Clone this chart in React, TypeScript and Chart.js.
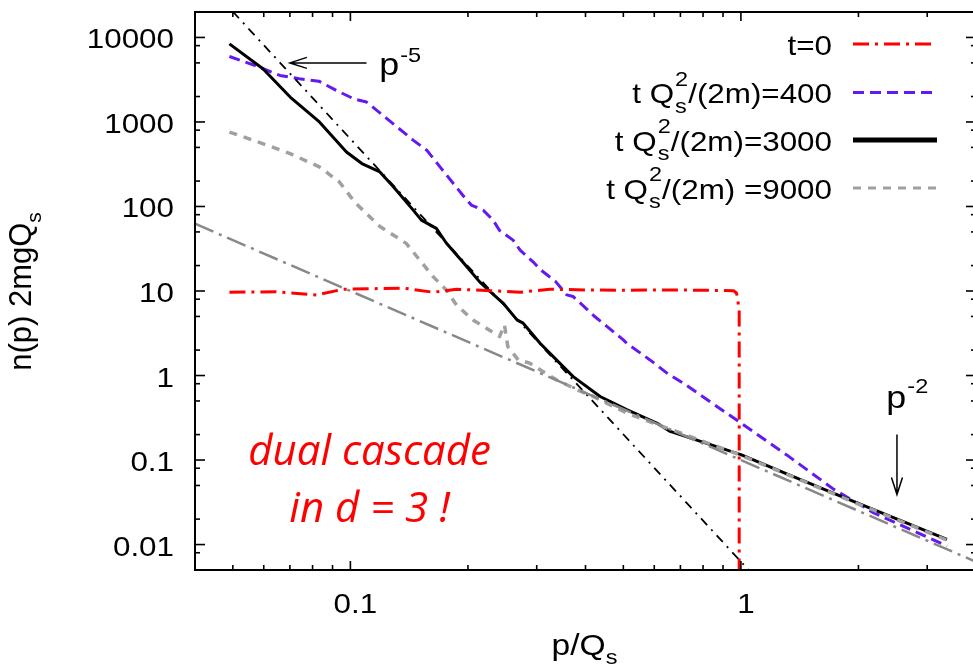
import React, { useEffect, useRef } from 'react';
import { Chart, registerables } from 'chart.js';

Chart.register(...registerables);

// ---- axis ranges & ticks ----
const X_MIN = 0.04;
const X_MAX = 4;
const Y_MIN = 0.005;
const Y_MAX = 20000;

const xMajorTicks = [0.1, 1];
const xMajorLabels = ['0.1', '1'];
const xMinorTicks = [0.05, 0.06, 0.07, 0.08, 0.09, 0.2, 0.3, 0.4, 0.5, 0.6, 0.7, 0.8, 0.9, 2, 3];
const yMajorTicks = [0.01, 0.1, 1, 10, 100, 1000, 10000];
const yMajorLabels = ['0.01', '0.1', '1', '10', '100', '1000', '10000'];
const yMinorTicks = [0.008, 0.02, 0.05, 0.08, 0.2, 0.5, 0.8, 2, 5, 8, 20, 50, 80, 200, 500, 800, 2000, 5000, 8000];

// ---- series: t = 0 ----
const t0P = [0.049, 0.0644, 0.0818, 0.0958, 0.137, 0.163, 0.187, 0.228, 0.272, 0.324, 0.4, 0.5, 0.65, 0.8, 0.957, 0.975, 0.99, 0.99];
const t0N = [9.66, 9.8, 8.97, 10.5, 10.8, 9.66, 10.5, 10.1, 9.66, 10.5, 10.3, 10.2, 10.3, 10.2, 10.1, 9.4, 6, 0.001];

// ---- series: t Qs^2/(2m) = 400 ----
const t400P = [0.049, 0.057, 0.066, 0.074, 0.083, 0.092, 0.102, 0.11, 0.124, 0.145, 0.157, 0.17, 0.194, 0.204, 0.219, 0.232, 0.241, 0.261, 0.272, 0.294, 0.306, 0.335, 0.358, 0.372, 0.42, 0.5, 0.51, 0.585, 0.65, 0.713, 1.0, 1.31, 1.73, 2.19, 2.61, 3.37];
const t400N = [5950, 4660, 3550, 3240, 3040, 2360, 1880, 1720, 1095, 606, 462, 290, 136, 104, 90, 69, 52, 40, 30.5, 22, 18, 13, 9, 8.6, 5.1, 2.64, 2.41, 1.53, 1.05, 0.81, 0.274, 0.115, 0.045, 0.0237, 0.0164, 0.0096];

// ---- series: t Qs^2/(2m) = 3000 ----
const t3000P = [0.049, 0.0597, 0.0701, 0.0833, 0.0977, 0.107, 0.119, 0.129, 0.145, 0.152, 0.166, 0.176, 0.194, 0.214, 0.228, 0.246, 0.267, 0.277, 0.306, 0.337, 0.372, 0.436, 0.51, 0.609, 0.659, 1.0, 1.31, 1.8, 3.37];
const t3000N = [8400, 4260, 1970, 1000, 441, 322, 256, 170, 90, 69, 55, 37, 22, 12.9, 9.8, 7.2, 4.55, 4.16, 2.41, 1.53, 0.97, 0.565, 0.394, 0.274, 0.218, 0.116, 0.0685, 0.0373, 0.0115];

// ---- series: t Qs^2/(2m) = 9000 ----
const t9000P = [0.049, 0.0596, 0.0701, 0.0833, 0.0937, 0.103, 0.119, 0.139, 0.163, 0.176, 0.187, 0.206, 0.223, 0.241, 0.248, 0.253, 0.269, 0.288, 0.306, 0.337, 0.38, 0.419, 0.453, 0.51, 0.597, 1.0, 1.8, 3.37];
const t9000N = [760, 555, 422, 294, 195, 110, 58, 36.6, 14.7, 10.3, 6.8, 4.55, 3.63, 2.89, 3.97, 2.2, 1.53, 1.4, 1.17, 0.89, 0.68, 0.565, 0.472, 0.36, 0.274, 0.114, 0.0368, 0.0113];

// ---- reference power laws ----
const p5P = [0.05, 1.1];
const p5N = [20200, 0.0039];
const p2P = [0.04, 4];
const p2N = [62.5, 0.00625];

// ---- annotation anchors (data coordinates) ----
const p5Arrow = { x1: 0.11, x2: 0.07, y: 5000 };
const p5Label = { x: 0.1186, y: 3550 };
const p2Arrow = { x: 2.51, y1: 0.2, y2: 0.039 };
const p2Label = { x: 2.358, y: 0.412 };
const noteLines = ['dual cascade', 'in d = 3 !'];
const noteAnchor = { x: 0.112, y: [0.0883, 0.01824] };

const COLORS = {
  t0: '#ff0000',
  t400: '#6419f0',
  t3000: '#000000',
  t9000: '#a0a0a0',
  p5: '#000000',
  p2: '#888888',
};

const legendRows = [
  { pre: 't=0', sup: '', sub: '', rest: '', color: COLORS.t0, dash: [16, 6, 3, 6], width: 3 },
  { pre: 't Q', sup: '2', sub: 's', rest: '/(2m)=400', color: COLORS.t400, dash: [11, 6], width: 3 },
  { pre: 't Q', sup: '2', sub: 's', rest: '/(2m)=3000', color: COLORS.t3000, dash: [], width: 5 },
  { pre: 't Q', sup: '2', sub: 's', rest: '/(2m) =9000', color: COLORS.t9000, dash: [8, 7], width: 3 },
];

const FONT = '"Liberation Sans", Arial, sans-serif';
const SX = 1.12;

const pts = (xs: number[], ys: number[]) => xs.map((x, i) => ({ x, y: ys[i] }));

function drawText(ctx: CanvasRenderingContext2D, s: string, x: number, y: number, size: number,
  align: CanvasTextAlign = 'left', color = '#000', sx = SX, font = FONT, style = '') {
  ctx.save();
  ctx.font = `${style} ${size}px ${font}`;
  ctx.fillStyle = color;
  ctx.textAlign = align;
  ctx.textBaseline = 'alphabetic';
  ctx.translate(x, y);
  ctx.scale(sx, 1);
  ctx.fillText(s, 0, 0);
  ctx.restore();
}

function measure(ctx: CanvasRenderingContext2D, s: string, size: number, sx = SX, font = FONT, style = '') {
  ctx.save();
  ctx.font = `${style} ${size}px ${font}`;
  const w = ctx.measureText(s).width * sx;
  ctx.restore();
  return w;
}

function arrow(ctx: CanvasRenderingContext2D, x1: number, y1: number, x2: number, y2: number) {
  const ang = Math.atan2(y2 - y1, x2 - x1);
  const L = 17, H = 5.5;
  ctx.beginPath();
  ctx.moveTo(x1, y1);
  ctx.lineTo(x2, y2);
  ctx.moveTo(x2 - L * Math.cos(ang) + H * Math.sin(ang), y2 - L * Math.sin(ang) - H * Math.cos(ang));
  ctx.lineTo(x2, y2);
  ctx.lineTo(x2 - L * Math.cos(ang) - H * Math.sin(ang), y2 - L * Math.sin(ang) + H * Math.cos(ang));
  ctx.stroke();
}

const decor = {
  id: 'decor',
  afterDraw(chart: any) {
    const ctx: CanvasRenderingContext2D = chart.ctx;
    const a = chart.chartArea;
    const X = (v: number) => chart.scales.x.getPixelForValue(v);
    const Y = (v: number) => chart.scales.y.getPixelForValue(v);
    ctx.save();
    ctx.setLineDash([]);
    ctx.strokeStyle = '#000';
    // border
    ctx.lineWidth = 2;
    ctx.strokeRect(a.left, a.top, a.right - a.left, a.bottom - a.top);
    // ticks
    const seg = (x1: number, y1: number, x2: number, y2: number) => {
      ctx.beginPath(); ctx.moveTo(x1, y1); ctx.lineTo(x2, y2); ctx.stroke();
    };
    ctx.lineWidth = 1.6;
    xMajorTicks.forEach((v) => { const p = X(v); seg(p, a.bottom, p, a.bottom - 9); seg(p, a.top, p, a.top + 9); });
    xMinorTicks.forEach((v) => { const p = X(v); seg(p, a.bottom, p, a.bottom - 5); seg(p, a.top, p, a.top + 5); });
    yMajorTicks.forEach((v) => { const p = Y(v); seg(a.left, p, a.left + 10, p); seg(a.right, p, a.right - 10, p); });
    yMinorTicks.forEach((v) => { const p = Y(v); seg(a.left, p, a.left + 5, p); seg(a.right, p, a.right - 5, p); });
    // tick labels
    yMajorTicks.forEach((v, i) => drawText(ctx, yMajorLabels[i], a.left - 21, Y(v) + 11, 28, 'right'));
    xMajorTicks.forEach((v, i) => drawText(ctx, xMajorLabels[i], X(v) + 5, 613, 28, 'center'));
    // x title
    const xt = 'p/Q';
    const wxt = measure(ctx, xt, 30);
    const wxs = measure(ctx, 's', 21);
    const xc = (a.left + a.right) / 2 - 1;
    drawText(ctx, xt, xc - (wxt + wxs) / 2, 655, 30);
    drawText(ctx, 's', xc - (wxt + wxs) / 2 + wxt, 664, 21);
    // y title (rotated)
    ctx.save();
    ctx.translate(31, (a.top + a.bottom) / 2 + 0.5);
    ctx.rotate(-Math.PI / 2);
    const yt = 'n(p) 2mgQ';
    const wyt = measure(ctx, yt, 31, 1);
    const wys = measure(ctx, 's', 21, 1);
    drawText(ctx, yt, -(wyt + wys) / 2, 0, 31, 'left', '#000', 1);
    drawText(ctx, 's', -(wyt + wys) / 2 + wyt, 10, 21, 'left', '#000', 1);
    ctx.restore();
    // legend
    const xr = 832;
    const rowY = [44, 92.5, 140, 188];
    legendRows.forEach((r, i) => {
      const ly = rowY[i];
      const base = ly + 10.5;
      let cur = xr;
      if (r.rest) {
        const wr = measure(ctx, r.rest, 28);
        cur -= wr;
        drawText(ctx, r.rest, cur, base, 28);
        const ws = Math.max(measure(ctx, r.sup, 21), measure(ctx, r.sub, 21));
        cur -= ws;
        drawText(ctx, r.sup, cur, base - 17.5, 21);
        drawText(ctx, r.sub, cur, base + 9.5, 21);
        cur -= 1;
      }
      drawText(ctx, r.pre, cur, base, 28, 'right');
      ctx.save();
      ctx.strokeStyle = r.color;
      ctx.lineWidth = r.width;
      ctx.setLineDash(r.dash);
      ctx.beginPath();
      ctx.moveTo(853, ly);
      ctx.lineTo(937, ly);
      ctx.stroke();
      ctx.restore();
    });
    // annotations
    ctx.lineWidth = 1.5;
    ctx.strokeStyle = '#000';
    arrow(ctx, X(p5Arrow.x1), Y(p5Arrow.y), X(p5Arrow.x2), Y(p5Arrow.y));
    arrow(ctx, X(p2Arrow.x), Y(p2Arrow.y1), X(p2Arrow.x), Y(p2Arrow.y2));
    const px5 = X(p5Label.x), py5 = Y(p5Label.y);
    drawText(ctx, 'p', px5, py5, 32);
    drawText(ctx, '-5', px5 + measure(ctx, 'p', 32) + 1, py5 - 13.5, 21);
    const px2 = X(p2Label.x), py2 = Y(p2Label.y);
    drawText(ctx, 'p', px2, py2, 32);
    drawText(ctx, '-2', px2 + measure(ctx, 'p', 32) + 1, py2 - 15, 21);
    // red note
    noteLines.forEach((s, i) => {
      drawText(ctx, s, X(noteAnchor.x), Y(noteAnchor.y[i]), 42, 'center', '#ff0000', 1, '"Open Sans", "Noto Sans", sans-serif', 'italic');
    });
    ctx.restore();
  },
};

export default function App() {
  const ref = useRef<HTMLCanvasElement>(null);
  useEffect(() => {
    const base = { pointRadius: 0, fill: false, tension: 0, borderCapStyle: 'butt', borderJoinStyle: 'round' };
    const chart = new Chart(ref.current as HTMLCanvasElement, {
      type: 'line',
      data: {
        datasets: [
          { ...base, label: 'p^-2', data: pts(p2P, p2N), borderColor: COLORS.p2, borderWidth: 2.5, borderDash: [20, 6, 3, 6], order: 0 },
          { ...base, label: 'p^-5', data: pts(p5P, p5N), borderColor: COLORS.p5, borderWidth: 1.8, borderDash: [9, 6, 2, 6], order: 1 },
          { ...base, label: 't=0', data: pts(t0P, t0N), borderColor: COLORS.t0, borderWidth: 3, borderDash: [16, 6, 3, 6], order: 2 },
          { ...base, label: 't Qs2/(2m) =9000', data: pts(t9000P, t9000N), borderColor: COLORS.t9000, borderWidth: 3.5, borderDash: [8, 7], order: 3 },
          { ...base, label: 't Qs2/(2m)=3000', data: pts(t3000P, t3000N), borderColor: COLORS.t3000, borderWidth: 3, order: 4 },
          { ...base, label: 't Qs2/(2m)=400', data: pts(t400P, t400N), borderColor: COLORS.t400, borderWidth: 3, borderDash: [11, 6], order: 5 },
        ] as any,
      },
      options: {
        animation: false,
        responsive: false,
        devicePixelRatio: 1,
        layout: { padding: { left: 195, top: 12, right: 0, bottom: 96 } },
        plugins: { legend: { display: false }, tooltip: { enabled: false } },
        scales: {
          x: { type: 'logarithmic', min: X_MIN, max: X_MAX, display: false, bounds: 'data' },
          y: { type: 'logarithmic', min: Y_MIN, max: Y_MAX, display: false, bounds: 'data' },
        },
      } as any,
      plugins: [decor],
    });
    return () => chart.destroy();
  }, []);
  return (
    <div style={{ position: 'absolute', left: 0, top: 0, width: 973, height: 666, overflow: 'hidden', background: '#fff' }}>
      <canvas ref={ref} width={976} height={666} style={{ display: 'block', width: 976, height: 666 }} />
    </div>
  );
}
